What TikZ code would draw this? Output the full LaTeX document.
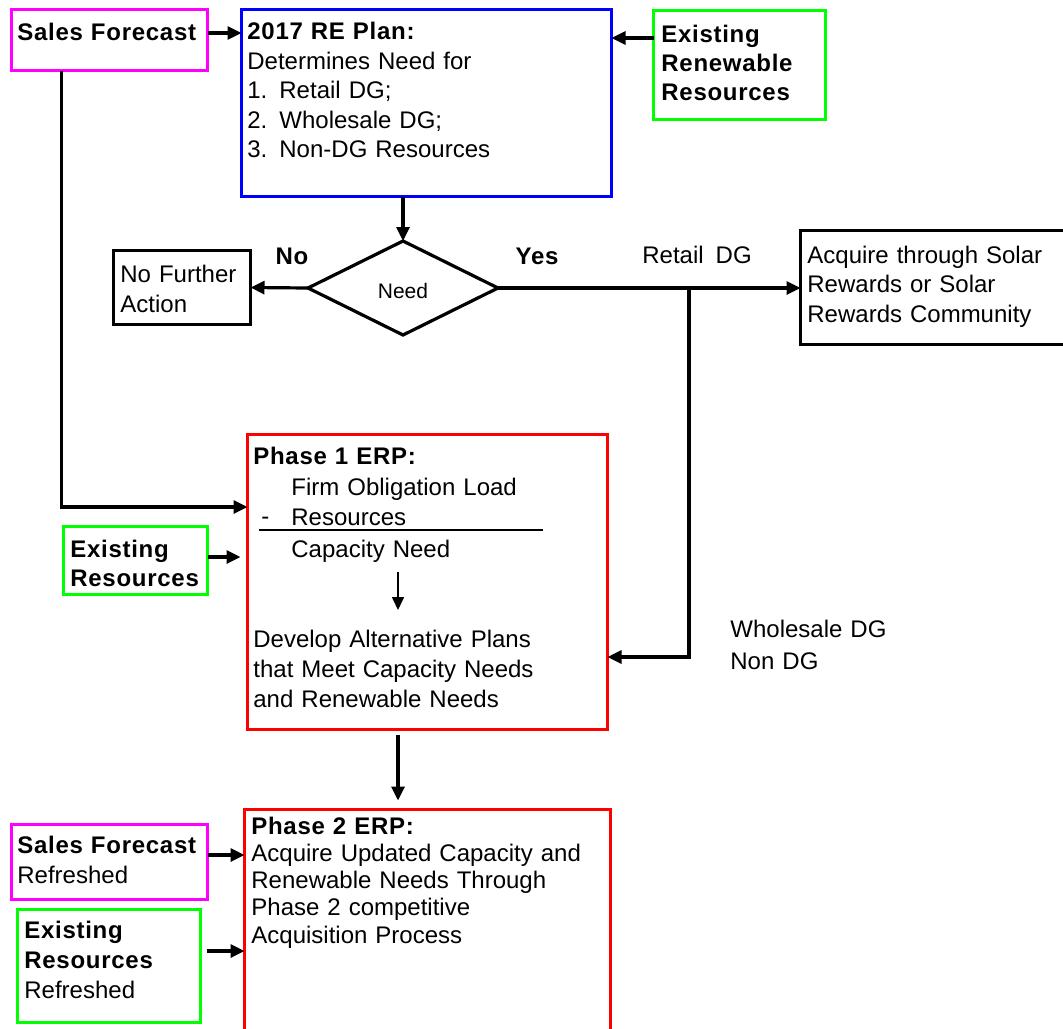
\documentclass[tikz,border=0pt]{standalone}
\usepackage{fontspec}
\setmainfont{Liberation Sans}[WordSpace=1.8,BoldFeatures={LetterSpace=3}]
\usetikzlibrary{arrows.meta,shapes.geometric}

\definecolor{fcmag}{RGB}{255,0,255}
\definecolor{resgreen}{RGB}{0,255,0}
\definecolor{planblue}{RGB}{0,0,255}
\definecolor{erpred}{RGB}{255,0,0}

\begin{document}
\begin{tikzpicture}[
  x=0.5pt,y=-0.5pt,
  font=\fontsize{12}{15}\selectfont,
  box/.style={draw,line width=1.5pt,inner sep=0pt,outer sep=0pt,anchor=north west},
  txt/.style={anchor=base west,inner sep=0pt,text width=#1,align=left},
  txt/.default=250pt,
  lbl/.style={inner sep=0pt,font=\fontsize{12}{15}\selectfont\bfseries},
  arr/.style={-{Triangle[length=7pt,width=6.5pt]},line width=1.6pt},
  thinarr/.style={-{Triangle[length=6.5pt,width=6pt]},line width=0.8pt},
]
  \useasboundingbox (0,0) rectangle (1063,1028);

  \node[box,draw=fcmag,minimum width=98pt,minimum height=30.5pt] (sf1) at (11.5,9.5) {};
  \node[txt] (sf1-t) at (17,40) {\textbf{Sales Forecast}};
  \node[box,draw=planblue,minimum width=185pt,minimum height=93.5pt] (plan) at (241.5,9.5) {};
  \node[txt,font=\fontsize{12}{14.75}\selectfont] (plan-t) at (247,39.5)
    {\textbf{2017 RE Plan:}\\Determines Need for\\1. Retail DG;\\2. Wholesale DG;\\3. Non-DG Resources};
  \node[box,draw=resgreen,minimum width=86pt,minimum height=54.5pt] (err) at (653.5,10.5) {};
  \node[txt,font=\fontsize{12}{14.5}\selectfont] (err-t) at (661,42)
    {\textbf{Existing}\\\textbf{Renewable}\\\textbf{Resources}};

  \node[draw,diamond,aspect=2,line width=1.6pt,minimum width=95pt,minimum height=47pt,
        inner sep=0pt,outer sep=0pt,text height=10.5pt,
        font=\fontsize{10.5}{12}\selectfont] (need) at (403,288) {Need};
  \node[lbl] (no) at (292,256) {No};
  \node[lbl] (yes) at (537,256) {Yes};
  \node[inner sep=0pt] (retail) at (697,255) {Retail DG};
  \node[box,minimum width=68.5pt,minimum height=37pt] (nfa) at (113.5,250.5) {};
  \node[txt] (nfa-t) at (120,282) {No Further\\Action};
  \node[box,minimum width=140pt,minimum height=57pt] (acq) at (800.5,230.5) {};
  \node[txt,font=\fontsize{12}{14.75}\selectfont] (acq-t) at (807,263)
    {Acquire through Solar\\Rewards or Solar\\Rewards Community};
  \coordinate (split) at (689,288);

  \node[box,draw=erpred,minimum width=180pt,minimum height=147.5pt] (ph1) at (247.5,434.5) {};
  \node[txt] (ph1-head) at (253,464) {\textbf{Phase 1 ERP:}};
  \node[txt] (ph1-load) at (291,495) {Firm Obligation Load\\Resources};
  \node[txt=10pt] (ph1-minus) at (261,524) {-};
  \draw[line width=1pt] (259,530) -- (543,530);
  \node[txt] (ph1-cap) at (291,557) {Capacity Need};
  \coordinate (cn-top) at (398,572);
  \coordinate (cn-bot) at (398,610);
  \draw[thinarr] (cn-top) -- (cn-bot);
  \node[txt] (ph1-dev) at (253,647)
    {Develop Alternative Plans\\that Meet Capacity Needs\\and Renewable Needs};
  \node[box,draw=resgreen,minimum width=72pt,minimum height=34pt] (exr) at (63.5,526.5) {};
  \node[txt,font=\fontsize{12}{14.5}\selectfont] (exr-t) at (70,557)
    {\textbf{Existing}\\\textbf{Resources}};
  \node[txt,font=\fontsize{12}{16}\selectfont] (wsale) at (730,637) {Wholesale DG\\Non DG};

  \node[box,draw=erpred,minimum width=183pt,minimum height=120pt] (ph2) at (244.5,809.5) {};
  \node[txt,font=\fontsize{12}{13.65}\selectfont] (ph2-t) at (251,834)
    {\textbf{Phase 2 ERP:}\\Acquire Updated Capacity and\\Renewable Needs Through\\Phase 2 competitive\\Acquisition Process};
  \node[box,draw=fcmag,minimum width=98pt,minimum height=37.5pt] (sf2) at (11.5,824.5) {};
  \node[txt] (sf2-t) at (17,853) {\textbf{Sales Forecast}\\Refreshed};
  \node[box,draw=resgreen,minimum width=91.5pt,minimum height=56.5pt] (exr2) at (17.5,909.5) {};
  \node[txt] (exr2-t) at (24,938) {\textbf{Existing}\\\textbf{Resources}\\Refreshed};

  \draw[arr] ([yshift=3.5pt]sf1.east) -- ([yshift=3.5pt]sf1.east -| plan.west);
  \draw[arr] ([yshift=13.5pt]err.west) -- ([yshift=13.5pt]err.west -| plan.east);
  \draw[arr] (need.north |- plan.south) -- (need.north);
  \draw[arr] (need.west) -- (nfa.east);
  \draw[arr] (need.east) -- (need.east -| acq.west);
  \draw[arr] (split) |- ([yshift=-37.5pt]ph1.east);
  \draw[arr] ([xshift=-24pt]sf1.south) |- ([yshift=37.5pt]ph1.west);
  \draw[arr,shorten >=3.5pt] ([yshift=1.75pt]exr.east) -- ([yshift=1.75pt]exr.east -| ph1.west);
  \draw[arr,shorten <=2.5pt,shorten >=4.5pt] ([xshift=-14.75pt]ph1.south)
    -- ([xshift=-14.75pt]ph1.south |- ph2.north);
  \draw[arr] ([yshift=3.5pt]sf2.east) -- ([yshift=3.5pt]sf2.east -| ph2.west);
  \draw[arr,shorten <=3.25pt] ([yshift=7.5pt]exr2.east) -- ([yshift=7.5pt]exr2.east -| ph2.west);
\end{tikzpicture}
\end{document}
